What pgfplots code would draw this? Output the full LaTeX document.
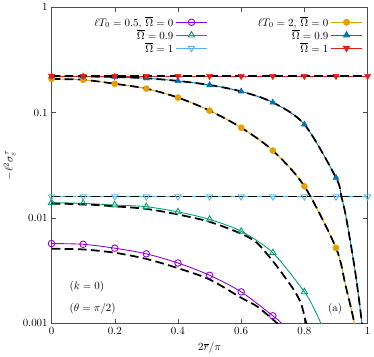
\documentclass[border=0pt]{standalone}
\usepackage{pgfplots}
\usepackage{pgfplotstable}
\pgfplotsset{compat=1.18}
\definecolor{cpurple}{HTML}{9400D3}
\definecolor{cgreen}{HTML}{009E73}
\definecolor{ccyan}{HTML}{56B4E9}
\definecolor{corange}{HTML}{E69F00}
\definecolor{cblue}{HTML}{0072B2}
\definecolor{cred}{HTML}{E51E10}

\pgfplotstableread{
x y
0 0.00572
0.1 0.00563
0.2 0.00517
0.3 0.00457
0.4 0.00374
0.5 0.00286
0.6 0.00199
0.7 0.00118
0.728 0.001
0.745 0.0008
}\tpurple
\pgfplotstableread{
x y
0 0.00511
0.1 0.00503
0.2 0.00468
0.3 0.00409
0.4 0.00334
0.5 0.00261
0.6 0.00175
0.65 0.00145
0.7 0.00109
0.714 0.001
0.73 0.0008
}\tpurpled
\pgfplotstableread{
x y
0 0.0140
0.1 0.01377
0.2 0.01328
0.3 0.0128
0.4 0.01143
0.5 0.0097
0.6 0.00748
0.7 0.00468
0.8 0.00199
0.831 0.00137
0.852 0.001
0.87 0.0007
}\tgreen
\pgfplotstableread{
x y
0 0.0137
0.1 0.0135
0.2 0.0129
0.3 0.0122
0.4 0.0108
0.5 0.0092
0.6 0.0071
0.65 0.0058
0.7 0.0039
0.74 0.0027
0.77 0.0020
0.79 0.00152
0.806 0.001
0.815 0.0008
}\tgreend
\pgfplotstableread{
x y
0 0.016
0.1 0.016
0.2 0.016
0.3 0.016
0.4 0.016
0.5 0.016
0.6 0.016
0.7 0.016
0.8 0.016
0.9 0.016
1 0.016
}\tcyan
\pgfplotstableread{
x y
0 0.209
0.1 0.205
0.2 0.188
0.3 0.169
0.4 0.139
0.5 0.1045
0.6 0.072
0.7 0.0437
0.8 0.020
0.9 0.0052
0.93 0.0023
0.958 0.001
0.97 0.0005
}\torange
\pgfplotstableread{
x y
0 0.222
0.1 0.2205
0.2 0.218
0.3 0.212
0.4 0.200
0.5 0.183
0.6 0.159
0.7 0.125
0.8 0.0773
0.9 0.0241
0.917 0.016
0.932 0.0101
0.96 0.0032
0.982 0.001
0.99 0.0005
}\tblue
\pgfplotstableread{
x y
0 0.222
0.1 0.222
0.2 0.222
0.3 0.222
0.4 0.222
0.5 0.222
0.6 0.222
0.7 0.222
0.8 0.222
0.9 0.222
1 0.222
}\tred

\begin{document}
\begin{tikzpicture}
\begin{axis}[
  scale only axis, width=289pt, height=289pt,
  xmin=0, xmax=1, ymin=0.001, ymax=1,
  ymode=log, log basis y=10,
  xtick={0,0.2,0.4,0.6,0.8,1},
  xticklabels={0,0.2,0.4,0.6,0.8,1},
  ytick={0.001,0.01,0.1,1},
  yticklabels={0.001,0.01,0.1,1},
  tick align=inside, tick pos=both,
  axis line style={black!70},
  every tick/.style={black!70},
  xlabel={$2\overline{r}/\pi$},
  ylabel={$-\ell^2\sigma^{\tau}_{\varepsilon}$},
  clip mode=individual,
  legend columns=2,
  legend plot pos=right,
  legend cell align=right,
  legend image code/.code={\draw[mark repeat=2,mark phase=2] plot coordinates {(0cm,0cm)(0.5cm,0cm)(1cm,0cm)};},
  legend style={at={(rel axis cs:0.995,0.985)}, anchor=north east, draw=none, fill=none,
    row sep=-2.5pt, /tikz/column 2/.style={column sep=44pt}},
]
% colored lines
\addplot[cpurple, line width=0.8pt, smooth, forget plot] table {\tpurple};
\addplot[cgreen, line width=0.8pt, smooth, forget plot] table {\tgreen};
\addplot[ccyan, line width=0.8pt, forget plot] table {\tcyan};
\addplot[corange, line width=0.8pt, smooth, forget plot] table {\torange};
\addplot[cblue, line width=0.8pt, smooth, forget plot] table {\tblue};
\addplot[cred, line width=0.8pt, forget plot] table {\tred};
% dashed black
\tikzset{bdash/.style={black, line width=1.6pt, dash pattern=on 8pt off 4pt}}
\addplot[bdash, smooth, forget plot] table {\tpurpled};
\addplot[bdash, smooth, forget plot] table {\tgreend};
\addplot[bdash, forget plot] table {\tcyan};
\addplot[bdash, smooth, forget plot] table {\torange};
\addplot[bdash, smooth, forget plot] table {\tblue};
\addplot[bdash, forget plot] table {\tred};
% marks
\addplot[cpurple, only marks, mark=o, mark size=3pt, line width=0.8pt, restrict x to domain=0:0.705, forget plot] table {\tpurple};
\addplot[cgreen, only marks, mark=triangle, mark size=3.3pt, line width=0.8pt, restrict x to domain=0:0.805, forget plot] table {\tgreen};
\addplot[ccyan, only marks, mark=triangle, mark size=3.3pt, line width=0.8pt, every mark/.append style={rotate=180}, forget plot] table {\tcyan};
\addplot[corange, only marks, mark=*, mark size=2.8pt, mark options={fill=corange}, restrict x to domain=0:0.905, forget plot] table {\torange};
\addplot[cblue, only marks, mark=triangle*, mark size=3.2pt, mark options={fill=cblue}, restrict x to domain=0:0.905, forget plot] table {\tblue};
\addplot[cred, only marks, mark=triangle*, mark size=3.2pt, mark options={fill=cred}, every mark/.append style={rotate=180}, forget plot] table {\tred};
% legend
\addlegendimage{cpurple, line width=0.8pt, mark=o, mark size=3pt}
\addlegendentry{$\ell T_0=0.5,\,\overline{\Omega}=0$}
\addlegendimage{corange, line width=0.8pt, mark=*, mark size=2.8pt, mark options={fill=corange}}
\addlegendentry{$\ell T_0=2,\,\overline{\Omega}=0$}
\addlegendimage{cgreen, line width=0.8pt, mark=triangle, mark size=3.3pt}
\addlegendentry{$\overline{\Omega}=0.9$}
\addlegendimage{cblue, line width=0.8pt, mark=triangle*, mark size=3.2pt, mark options={fill=cblue}}
\addlegendentry{$\overline{\Omega}=0.9$}
\addlegendimage{ccyan, line width=0.8pt, mark=triangle, mark size=3.3pt, mark options={rotate=180}}
\addlegendentry{$\overline{\Omega}=1$}
\addlegendimage{cred, line width=0.8pt, mark=triangle*, mark size=3.2pt, mark options={fill=cred, rotate=180}}
\addlegendentry{$\overline{\Omega}=1$}
% annotations
\node[anchor=west] at (rel axis cs:0.045,0.117) {$(k=0)$};
\node[anchor=west] at (rel axis cs:0.045,0.045) {$(\theta=\pi/2)$};
\node at (rel axis cs:0.897,0.045) {(a)};
\end{axis}
\end{tikzpicture}
\end{document}
